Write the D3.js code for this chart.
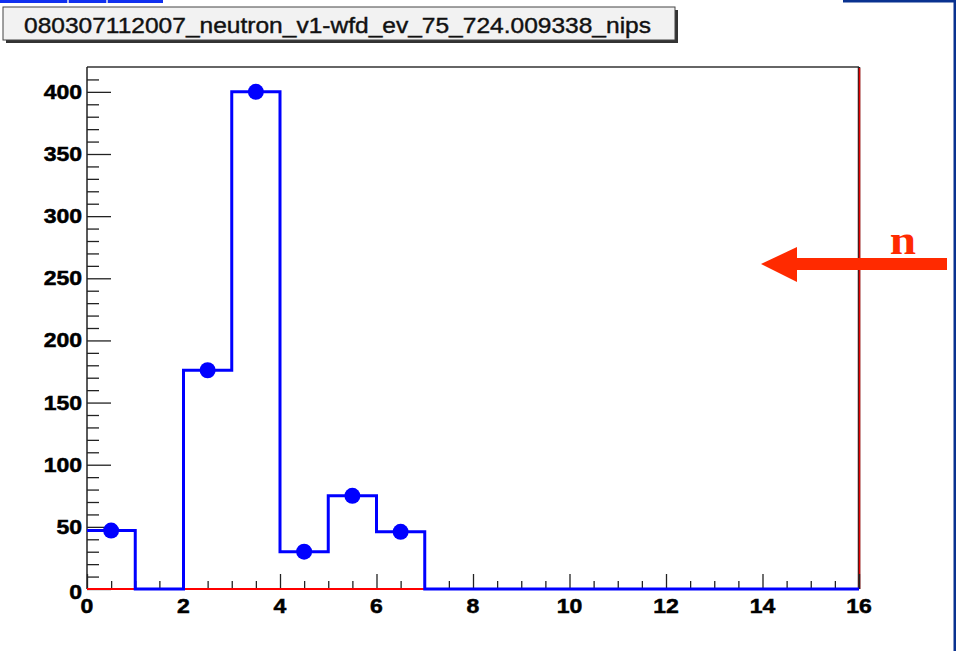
<!DOCTYPE html>
<html>
<head>
<meta charset="utf-8">
<script src="https://cdn.jsdelivr.net/npm/d3@7"></script>
<style>
  body { margin: 0; background: #fff; }
  svg { display: block; }
  .lbl { font-family: "Liberation Sans", Arial, sans-serif; font-weight: bold; font-size: 20px; fill: #000; stroke: #000; stroke-width: 0.5px; }
</style>
</head>
<body>
<div id="chart"></div>
<script>

// histogram: 16 bins of width 1, from 0 to 16
var binEdges = d3.range(0, 17);
var counts = [47, 0, 176, 400, 30, 75, 46, 0, 0, 0, 0, 0, 0, 0, 0, 0];
var xTicks = [0, 2, 4, 6, 8, 10, 12, 14, 16];
var yTicks = [0, 50, 100, 150, 200, 250, 300, 350, 400];
var titleText = "080307112007_neutron_v1-wfd_ev_75_724.009338_nips";
var arrowLabel = "n";

var W = 956, H = 651;
var plot = {left: 87, right: 859, top: 67, bottom: 589};

var svg = d3.select("#chart").append("svg")
    .attr("width", W)
    .attr("height", H);

// slide fragments around the picture
svg.append("rect").attr("x", 0).attr("y", 0).attr("width", 163).attr("height", 3).attr("fill", "#1030f0");
svg.append("rect").attr("x", 67).attr("y", 0).attr("width", 2).attr("height", 3).attr("fill", "#b8c0f0");
svg.append("rect").attr("x", 106).attr("y", 0).attr("width", 2).attr("height", 3).attr("fill", "#b8c0f0");
svg.append("rect").attr("x", 843).attr("y", 0).attr("width", 113).attr("height", 2.5).attr("fill", "#0a3290");
svg.append("rect").attr("x", 953.5).attr("y", 0).attr("width", 2.5).attr("height", H).attr("fill", "#0a3290");

var x = d3.scaleLinear().domain([0, 16]).range([plot.left, plot.right]);
var y = d3.scaleLinear().domain([0, 420]).range([plot.bottom, plot.top]);

// frame
svg.append("line").attr("x1", plot.left).attr("x2", plot.right).attr("y1", plot.top).attr("y2", plot.top)
    .attr("stroke", "#333").attr("stroke-width", 1.5);
svg.append("line").attr("x1", plot.right).attr("x2", plot.right).attr("y1", plot.top).attr("y2", plot.bottom)
    .attr("stroke", "#222").attr("stroke-width", 2.5);
svg.append("line").attr("x1", plot.right + 0.5).attr("x2", plot.right + 0.5).attr("y1", plot.top + 1).attr("y2", plot.bottom)
    .attr("stroke", "#e00000").attr("stroke-width", 1.5);

// axes (ROOT style ticks pointing inward)
var yAxis = d3.axisRight(y).tickValues(d3.range(0, 420, 10)).tickSize(0).tickFormat("");
var gy = svg.append("g").attr("transform", "translate(" + plot.left + ",0)").call(yAxis);
gy.select(".domain").remove();
gy.selectAll(".tick line")
    .attr("x2", function(d) { return d % 50 === 0 ? 24 : 12; })
    .attr("stroke", "#222").attr("stroke-width", 1.3);

var xAxis = d3.axisTop(x).tickValues(d3.range(0, 16.01, 0.5)).tickSize(0).tickFormat("");
var gx = svg.append("g").attr("transform", "translate(0," + plot.bottom + ")").call(xAxis);
gx.select(".domain").remove();
gx.selectAll(".tick line")
    .attr("y2", function(d) { return d % 2 === 0 ? -15 : -8; })
    .attr("stroke", "#222").attr("stroke-width", 1.3);

svg.append("line").attr("x1", plot.left).attr("x2", plot.left).attr("y1", plot.top).attr("y2", plot.bottom)
    .attr("stroke", "#222").attr("stroke-width", 1.5);
svg.append("line").attr("x1", plot.left).attr("x2", plot.right).attr("y1", plot.bottom).attr("y2", plot.bottom)
    .attr("stroke", "#ff0000").attr("stroke-width", 2);

// tick labels
svg.selectAll(".ylbl").data(yTicks).enter().append("text")
    .attr("class", "lbl")
    .attr("text-anchor", "end")
    .attr("transform", function(d) { return "translate(82," + (y(d) + 7 + (d === 0 ? 3 : 0)) + ") scale(1.15,1)"; })
    .text(function(d) { return d; });

svg.selectAll(".xlbl").data(xTicks).enter().append("text")
    .attr("class", "lbl")
    .attr("text-anchor", "middle")
    .attr("transform", function(d) { return "translate(" + x(d) + ",613) scale(1.15,1)"; })
    .text(function(d) { return d; });

// histogram outline
var pts = [];
counts.forEach(function(c, i) {
  pts.push([binEdges[i], c]);
  pts.push([binEdges[i + 1], c]);
});
var line = d3.line()
    .x(function(d) { return x(d[0]); })
    .y(function(d) { return y(d[1]); });
svg.append("path")
    .attr("d", line(pts))
    .attr("fill", "none")
    .attr("stroke", "#0000ff")
    .attr("stroke-width", 3);

// markers at bin centres
svg.selectAll(".mk").data(counts.map(function(c, i) { return {x: binEdges[i] + 0.5, c: c}; })
    .filter(function(d) { return d.c > 0; }))
  .enter().append("circle")
    .attr("cx", function(d) { return x(d.x); })
    .attr("cy", function(d) { return y(d.c); })
    .attr("r", 8)
    .attr("fill", "#0000ff");

// title box
var tb = {x: 3, y: 7, w: 672, h: 33};
svg.append("rect").attr("x", tb.x + 3).attr("y", tb.y + 3).attr("width", tb.w).attr("height", tb.h).attr("fill", "#333");
svg.append("rect").attr("x", tb.x).attr("y", tb.y).attr("width", tb.w).attr("height", tb.h)
    .attr("fill", "#f2f2f2").attr("stroke", "#444").attr("stroke-width", 1);
svg.append("text")
    .attr("x", 24).attr("y", 33)
    .attr("textLength", 627)
    .attr("lengthAdjust", "spacingAndGlyphs")
    .style("font-family", "Liberation Sans, Arial, sans-serif")
    .style("font-size", "22px")
    .style("fill", "#111")
    .style("stroke", "#111")
    .style("stroke-width", "0.4px")
    .text(titleText);

// neutron arrow
var arrowColor = "#ff2a00";
svg.append("rect").attr("x", 795).attr("y", 258).attr("width", 152).attr("height", 12).attr("fill", arrowColor);
svg.append("path")
    .attr("d", "M761,264 L797,247 L797,282 Z")
    .attr("fill", arrowColor);
svg.append("text")
    .attr("transform", "translate(903,254) scale(1.1,1)")
    .attr("text-anchor", "middle")
    .style("font-family", "Liberation Serif, serif")
    .style("font-weight", "bold")
    .style("font-size", "43px")
    .style("fill", arrowColor)
    .text(arrowLabel);

</script>
</body>
</html>
